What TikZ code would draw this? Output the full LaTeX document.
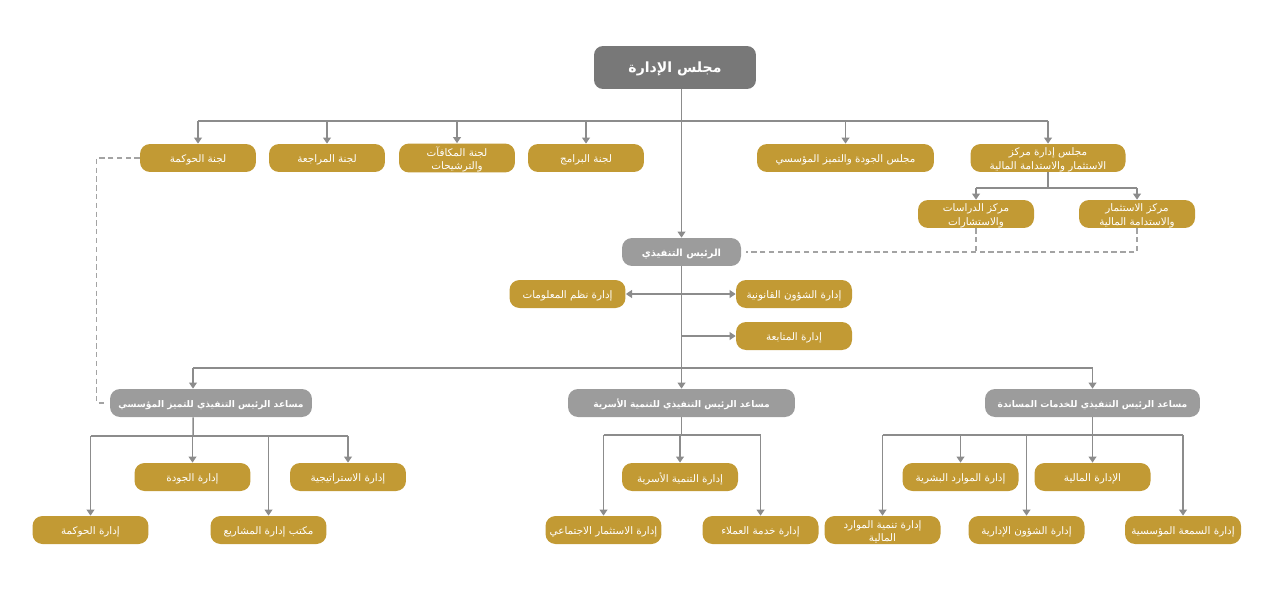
\documentclass[tikz,border=0pt]{standalone}
\usepackage{fontspec}
\usepackage{xcolor}
\usetikzlibrary{arrows.meta,calc}
\TeXXeTstate=1
\newfontfamily\arabicfont[Script=Arabic]{DejaVu Sans}
\newcommand{\artxt}[1]{\raisebox{-1pt}[\height][\depth]{\beginR #1\endR}}
\definecolor{gold}{HTML}{C29A34}
\definecolor{boardgray}{HTML}{787878}
\definecolor{asstgray}{HTML}{9C9C9C}
\definecolor{linegray}{HTML}{8C8C8C}

\begin{document}
\begin{tikzpicture}[x=0.02cm, y=-0.02cm,
  unitbox/.style={rectangle, rounded corners=0.2cm, fill=gold, text=white, minimum width=2.32cm, minimum height=0.56cm, inner sep=1pt, align=center, font=\arabicfont\fontsize{5.9}{7.5}\selectfont},
  asstbox/.style={unitbox, fill=asstgray, font=\arabicfont\bfseries\fontsize{5.2}{6.5}\selectfont},
  boardbox/.style={unitbox, fill=boardgray, rounded corners=0.18cm, minimum width=3.24cm, minimum height=0.86cm, font=\arabicfont\bfseries\fontsize{8}{10}\selectfont},
  link/.style={draw=linegray, line width=0.85pt},
  arr/.style={link, -{Triangle[width=4.5pt,length=3.5pt]}},
  dual/.style={link, {Triangle[width=4.5pt,length=3.5pt]}-{Triangle[width=4.5pt,length=3.5pt]}},
  dashlink/.style={draw=linegray!80, line width=0.6pt, dash pattern=on 3pt off 2pt}]
\useasboundingbox (0,0) rectangle (1270,615);
% board and committees
\node[boardbox] (board) at (675,67.5) {\artxt{مجلس الإدارة}};
\node[unitbox] (gov) at (198,158) {\artxt{لجنة الحوكمة}};
\node[unitbox] (audit) at (327,158) {\artxt{لجنة المراجعة}};
\node[unitbox] (reward) at (457,158) {\artxt{لجنة المكافآت}\\\artxt{والترشيحات}};
\node[unitbox] (prog) at (586,158) {\artxt{لجنة البرامج}};
\node[unitbox, minimum width=3.54cm] (quality) at (845.5,158) {\artxt{مجلس الجودة والتميز المؤسسي}};
\node[unitbox, minimum width=3.1cm] (ctrboard) at (1048,158) {\artxt{مجلس إدارة مركز}\\\artxt{الاستثمار والاستدامة المالية}};
\node[unitbox] (studies) at (976,214) {\artxt{مركز الدراسات}\\\artxt{والاستشارات}};
\node[unitbox] (invest) at (1137,214) {\artxt{مركز الاستثمار}\\\artxt{والاستدامة المالية}};
% executive level
\node[asstbox, minimum width=2.38cm, font=\arabicfont\bfseries\fontsize{5.6}{7}\selectfont] (ceo) at (681.5,252) {\artxt{الرئيس التنفيذي}};
\node[unitbox] (it) at (567.5,294) {\artxt{إدارة نظم المعلومات}};
\node[unitbox] (legal) at (794,294) {\artxt{إدارة الشؤون القانونية}};
\node[unitbox] (follow) at (794,336) {\artxt{إدارة المتابعة}};
\node[asstbox, minimum width=4.04cm] (excel) at (211,403) {\artxt{مساعد الرئيس التنفيذي للتميز المؤسسي}};
\node[asstbox, minimum width=4.54cm] (family) at (681.5,403) {\artxt{مساعد الرئيس التنفيذي للتنمية الأسرية}};
\node[asstbox, minimum width=4.3cm] (support) at (1092.5,403) {\artxt{مساعد الرئيس التنفيذي للخدمات المساندة}};
% departments
\node[unitbox] (govdept) at (90.5,530) {\artxt{إدارة الحوكمة}};
\node[unitbox] (qualdept) at (192.5,477) {\artxt{إدارة الجودة}};
\node[unitbox] (pmo) at (268.5,530) {\artxt{مكتب إدارة المشاريع}};
\node[unitbox] (strat) at (348,477) {\artxt{إدارة الاستراتيجية}};
\node[unitbox] (socinv) at (603.5,530) {\artxt{إدارة الاستثمار الاجتماعي}};
\node[unitbox] (famdev) at (680,477) {\artxt{إدارة التنمية الأسرية}};
\node[unitbox] (cust) at (760.5,530) {\artxt{إدارة خدمة العملاء}};
\node[unitbox] (fundev) at (882.5,530) {\artxt{إدارة تنمية الموارد}\\\artxt{المالية}};
\node[unitbox] (hr) at (960.5,477) {\artxt{إدارة الموارد البشرية}};
\node[unitbox] (admin) at (1026.5,530) {\artxt{إدارة الشؤون الإدارية}};
\node[unitbox] (finance) at (1092.5,477) {\artxt{الإدارة المالية}};
\node[unitbox] (brand) at (1183,530) {\artxt{إدارة السمعة المؤسسية}};
% buses
\coordinate (bus1) at (681.5,121);
\coordinate (bus2) at (1048,188);
\coordinate (bus3) at (681.5,368);
\coordinate (excin) at ([xshift=-0.36cm]excel.north);
\coordinate (bus4) at (193,436);
\coordinate (bus5) at (681.5,435);
\coordinate (bus6) at (1092.5,435);
\draw[arr] (board.south -| ceo.north) -- (ceo.north);
\draw[link] (bus1 -| gov.north) -- (bus1 -| ctrboard.north);
\foreach \n in {gov,audit,reward,prog,quality,ctrboard}
  \draw[arr] (bus1 -| \n.north) -- (\n.north);
\draw[link] (ctrboard.south) -- (bus2);
\draw[link] (bus2 -| studies.north) -- (bus2 -| invest.north);
\foreach \n in {studies,invest}
  \draw[arr] (bus2 -| \n.north) -- (\n.north);
\draw[dashlink] (studies.south) -- (studies.south |- ceo.east);
\draw[dashlink] (invest.south) |- ([xshift=0.1cm]ceo.east);
\draw[dashlink] (gov.west) -- ++(-43,0) |- ([xshift=-0.1cm]excel.west);
\draw[link] (ceo.south) -- (bus3);
\draw[dual] (it.east) -- (legal.west);
\draw[arr] (ceo.south |- follow.west) -- (follow.west);
\draw[link] (bus3 -| excin) -- (bus3 -| support.north);
\draw[arr] (bus3 -| excin) -- (excin);
\draw[arr] (bus3) -- (family.north);
\draw[arr] (bus3 -| support.north) -- (support.north);
% department buses
\draw[link] (excin |- excel.south) -- (bus4);
\draw[link] (bus4 -| govdept.north) -- (bus4 -| strat.north);
\foreach \n in {govdept,qualdept,pmo,strat}
  \draw[arr] (bus4 -| \n.north) -- (\n.north);
\draw[link] (family.south) -- (bus5);
\draw[link] (bus5 -| socinv.north) -- (bus5 -| cust.north);
\foreach \n in {socinv,famdev,cust}
  \draw[arr] (bus5 -| \n.north) -- (\n.north);
\draw[link] (support.south) -- (bus6);
\draw[link] (bus6 -| fundev.north) -- (bus6 -| brand.north);
\foreach \n in {fundev,hr,admin,finance,brand}
  \draw[arr] (bus6 -| \n.north) -- (\n.north);
\end{tikzpicture}
\end{document}
